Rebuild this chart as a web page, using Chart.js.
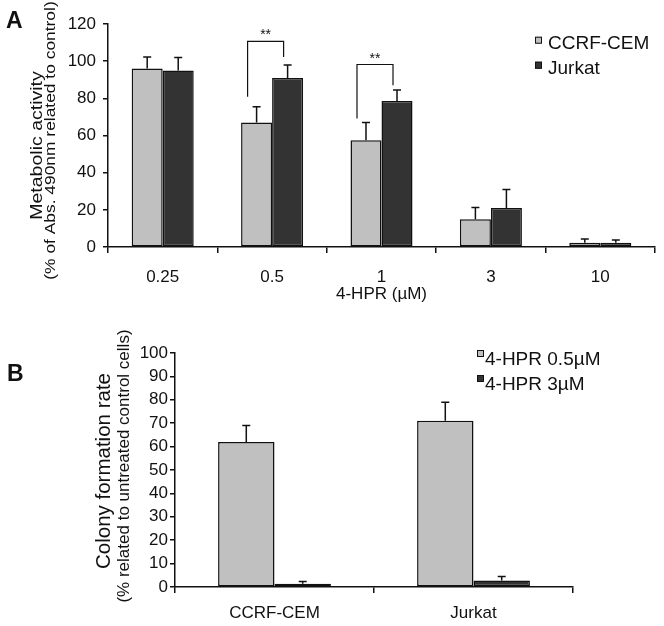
<!DOCTYPE html>
<html>
<head>
<meta charset="utf-8">
<script src="https://cdn.jsdelivr.net/npm/chart.js@4.4.0/dist/chart.umd.min.js"></script>
<style>
  html, body { margin: 0; padding: 0; background: #fff; }
  #wrap { position: relative; width: 664px; height: 626px; }
  #chartA { position: absolute; left: 0; top: 0; }
  #chartB { position: absolute; left: 0; top: 305px; }
</style>
</head>
<body>
<div id="wrap">
  <canvas id="chartA" width="664" height="305"></canvas>
  <canvas id="chartB" width="664" height="321"></canvas>
</div>
<script>
// panel A data
const doses = ['0.25', '0.5', '1', '3', '10'];
const ccrfActivity = [96, 67, 57.5, 15, 2.3];
const ccrfActivitySd = [6.3, 8.5, 9.5, 6.3, 2];
const jurkatActivity = [95, 91, 78.5, 21, 2.3];
const jurkatActivitySd = [7, 7, 6, 10, 1.5];
const activityTicks = [0, 20, 40, 60, 80, 100, 120];

// ** brackets (category index, values in % units)
const sigGroups = [1, 2];
const sigTop = [110.6, 98.2];
const sigLeftEnd = [80.8, 69.2];
const sigRightEnd = [102.3, 87.1];
const sigLabels = ['**', '**'];

// panel B data
const cellLines = ['CCRF-CEM', 'Jurkat'];
const colonyLow = [62, 71];
const colonyLowSd = [7, 8];
const colonyHigh = [1.4, 2.8];
const colonyHighSd = [1, 1.7];
const colonyTicks = [0, 10, 20, 30, 40, 50, 60, 70, 80, 90, 100];

const FONT = "'Liberation Sans', Arial, sans-serif";
const INK = '#111';
const LIGHT = '#c0c0c0';
const DARK = '#333333';

// 에러바 (위쪽만)
const errorBars = {
  id: 'errorBars',
  afterDatasetsDraw(chart, args, o) {
    const ctx = chart.ctx;
    const y = chart.scales.y;
    ctx.save();
    ctx.strokeStyle = INK;
    ctx.lineWidth = 1.5;
    chart.data.datasets.forEach((ds, i) => {
      chart.getDatasetMeta(i).data.forEach((bar, j) => {
        const top = y.getPixelForValue(ds.data[j] + o.sd[i][j]);
        ctx.beginPath();
        ctx.moveTo(bar.x, bar.y);
        ctx.lineTo(bar.x, top);
        ctx.moveTo(bar.x - 4, top);
        ctx.lineTo(bar.x + 4, top);
        ctx.stroke();
      });
    });
    ctx.restore();
  }
};

// 유의성 브라켓
const brackets = {
  id: 'brackets',
  afterDatasetsDraw(chart, args, o) {
    if (!o.groups) return;
    const ctx = chart.ctx;
    const y = chart.scales.y;
    const g0 = chart.getDatasetMeta(0).data;
    const g1 = chart.getDatasetMeta(1).data;
    ctx.save();
    ctx.strokeStyle = INK;
    ctx.fillStyle = INK;
    ctx.lineWidth = 1.2;
    o.groups.forEach((g, k) => {
      const xl = g0[g].x - 9;
      const xr = g1[g].x - 4;
      const yt = y.getPixelForValue(o.top[k]);
      ctx.beginPath();
      ctx.moveTo(xl, y.getPixelForValue(o.leftEnd[k]));
      ctx.lineTo(xl, yt);
      ctx.lineTo(xr, yt);
      ctx.lineTo(xr, y.getPixelForValue(o.rightEnd[k]));
      ctx.stroke();
      ctx.font = '14px ' + FONT;
      ctx.textAlign = 'center';
      ctx.textBaseline = 'alphabetic';
      ctx.fillText(o.labels[k], (xl + xr) / 2, yt - 2);
    });
    ctx.restore();
  }
};

// 패널 글자, y축 제목, 범례
const panelDeco = {
  id: 'panelDeco',
  afterDraw(chart, args, o) {
    const ctx = chart.ctx;
    const area = chart.chartArea;
    const cy = (area.top + area.bottom) / 2;
    ctx.save();
    ctx.fillStyle = INK;

    ctx.font = 'bold 23px ' + FONT;
    ctx.textAlign = 'left';
    ctx.textBaseline = 'alphabetic';
    ctx.fillText(o.letter, o.letterAt[0], o.letterAt[1]);

    o.titles.forEach((t, i) => {
      ctx.save();
      ctx.translate(o.titleX[i], cy + o.titleDy[i]);
      ctx.rotate(-Math.PI / 2);
      ctx.scale(1, o.squash);
      ctx.font = o.titleSize[i] + 'px ' + FONT;
      ctx.textAlign = 'center';
      ctx.fillText(t, 0, 0);
      ctx.restore();
    });

    chart.data.datasets.forEach((ds, i) => {
      ctx.fillStyle = ds.backgroundColor;
      ctx.fillRect(o.boxX, o.boxY[i], 7, 7);
      ctx.strokeStyle = INK;
      ctx.lineWidth = 1;
      ctx.strokeRect(o.boxX + 0.5, o.boxY[i] + 0.5, 6, 6);
      ctx.fillStyle = INK;
      ctx.font = '19px ' + FONT;
      ctx.textAlign = 'left';
      ctx.fillText(ds.label, o.textX, o.textY[i]);
    });
    ctx.restore();
  }
};

function yAxis(ticks, width, pad) {
  return {
    min: ticks[0],
    max: ticks[ticks.length - 1],
    afterBuildTicks: s => { s.ticks = ticks.map(v => ({ value: v })); },
    grid: { drawOnChartArea: false, tickLength: 5, color: INK, lineWidth: 1.5 },
    border: { color: INK, width: 1.5 },
    ticks: { color: INK, font: { family: FONT, size: 17 }, padding: pad },
    afterFit: s => { s.width = width; }
  };
}

function xAxis(height, pad, title) {
  return {
    grid: { offset: true, drawOnChartArea: false, tickLength: 6, color: INK, lineWidth: 1.5 },
    border: { color: INK, width: 1.5 },
    ticks: { color: INK, font: { family: FONT, size: 17 }, padding: pad },
    title: {
      display: !!title, text: title || '', color: INK,
      font: { family: FONT, size: 17 }, padding: 0
    },
    afterFit: s => { s.height = height; }
  };
}

function bars(label, data, color) {
  return {
    label: label,
    data: data,
    backgroundColor: color,
    borderColor: INK,
    borderWidth: 1.5,
    borderSkipped: false,
    categoryPercentage: 0.567,
    barPercentage: 1
  };
}

new Chart(document.getElementById('chartA'), {
  type: 'bar',
  data: {
    labels: doses,
    datasets: [
      bars('CCRF-CEM', ccrfActivity, LIGHT),
      bars('Jurkat', jurkatActivity, DARK)
    ]
  },
  options: {
    responsive: false,
    animation: false,
    devicePixelRatio: 1,
    layout: { padding: { left: 0, top: 24, right: 9, bottom: 0 } },
    scales: {
      x: xAxis(58, 14, '4-HPR (µM)'),
      y: yAxis(activityTicks, 108, 7)
    },
    plugins: {
      legend: { display: false },
      tooltip: { enabled: false },
      errorBars: { sd: [ccrfActivitySd, jurkatActivitySd] },
      brackets: {
        groups: sigGroups, top: sigTop, leftEnd: sigLeftEnd,
        rightEnd: sigRightEnd, labels: sigLabels
      },
      panelDeco: {
        letter: 'A', letterAt: [6, 28],
        titles: ['Metabolic activity', '(% of Abs. 490nm related to control)'],
        titleSize: [19.5, 17.4], titleX: [42, 55], titleDy: [10, 5], squash: 0.88,
        boxX: 535, boxY: [36.7, 61.7], textX: 548, textY: [49.3, 74]
      }
    }
  },
  plugins: [errorBars, brackets, panelDeco]
});

new Chart(document.getElementById('chartB'), {
  type: 'bar',
  data: {
    labels: cellLines,
    datasets: [
      bars('4-HPR 0.5µM', colonyLow, LIGHT),
      bars('4-HPR 3µM', colonyHigh, DARK)
    ]
  },
  options: {
    responsive: false,
    animation: false,
    devicePixelRatio: 1,
    layout: { padding: { left: 0, top: 48, right: 91, bottom: 0 } },
    scales: {
      x: xAxis(39, 10.5, ''),
      y: yAxis(colonyTicks, 175, 2)
    },
    plugins: {
      legend: { display: false },
      tooltip: { enabled: false },
      errorBars: { sd: [colonyLowSd, colonyHighSd] },
      brackets: {},
      panelDeco: {
        letter: 'B', letterAt: [7, 76],
        titles: ['Colony formation rate', '(% related to untreated control cells)'],
        titleSize: [20.5, 17], titleX: [110, 129], titleDy: [1, -4], squash: 1,
        boxX: 477, boxY: [45, 70], textX: 485, textY: [60, 85]
      }
    }
  },
  plugins: [errorBars, brackets, panelDeco]
});
</script>
</body>
</html>
